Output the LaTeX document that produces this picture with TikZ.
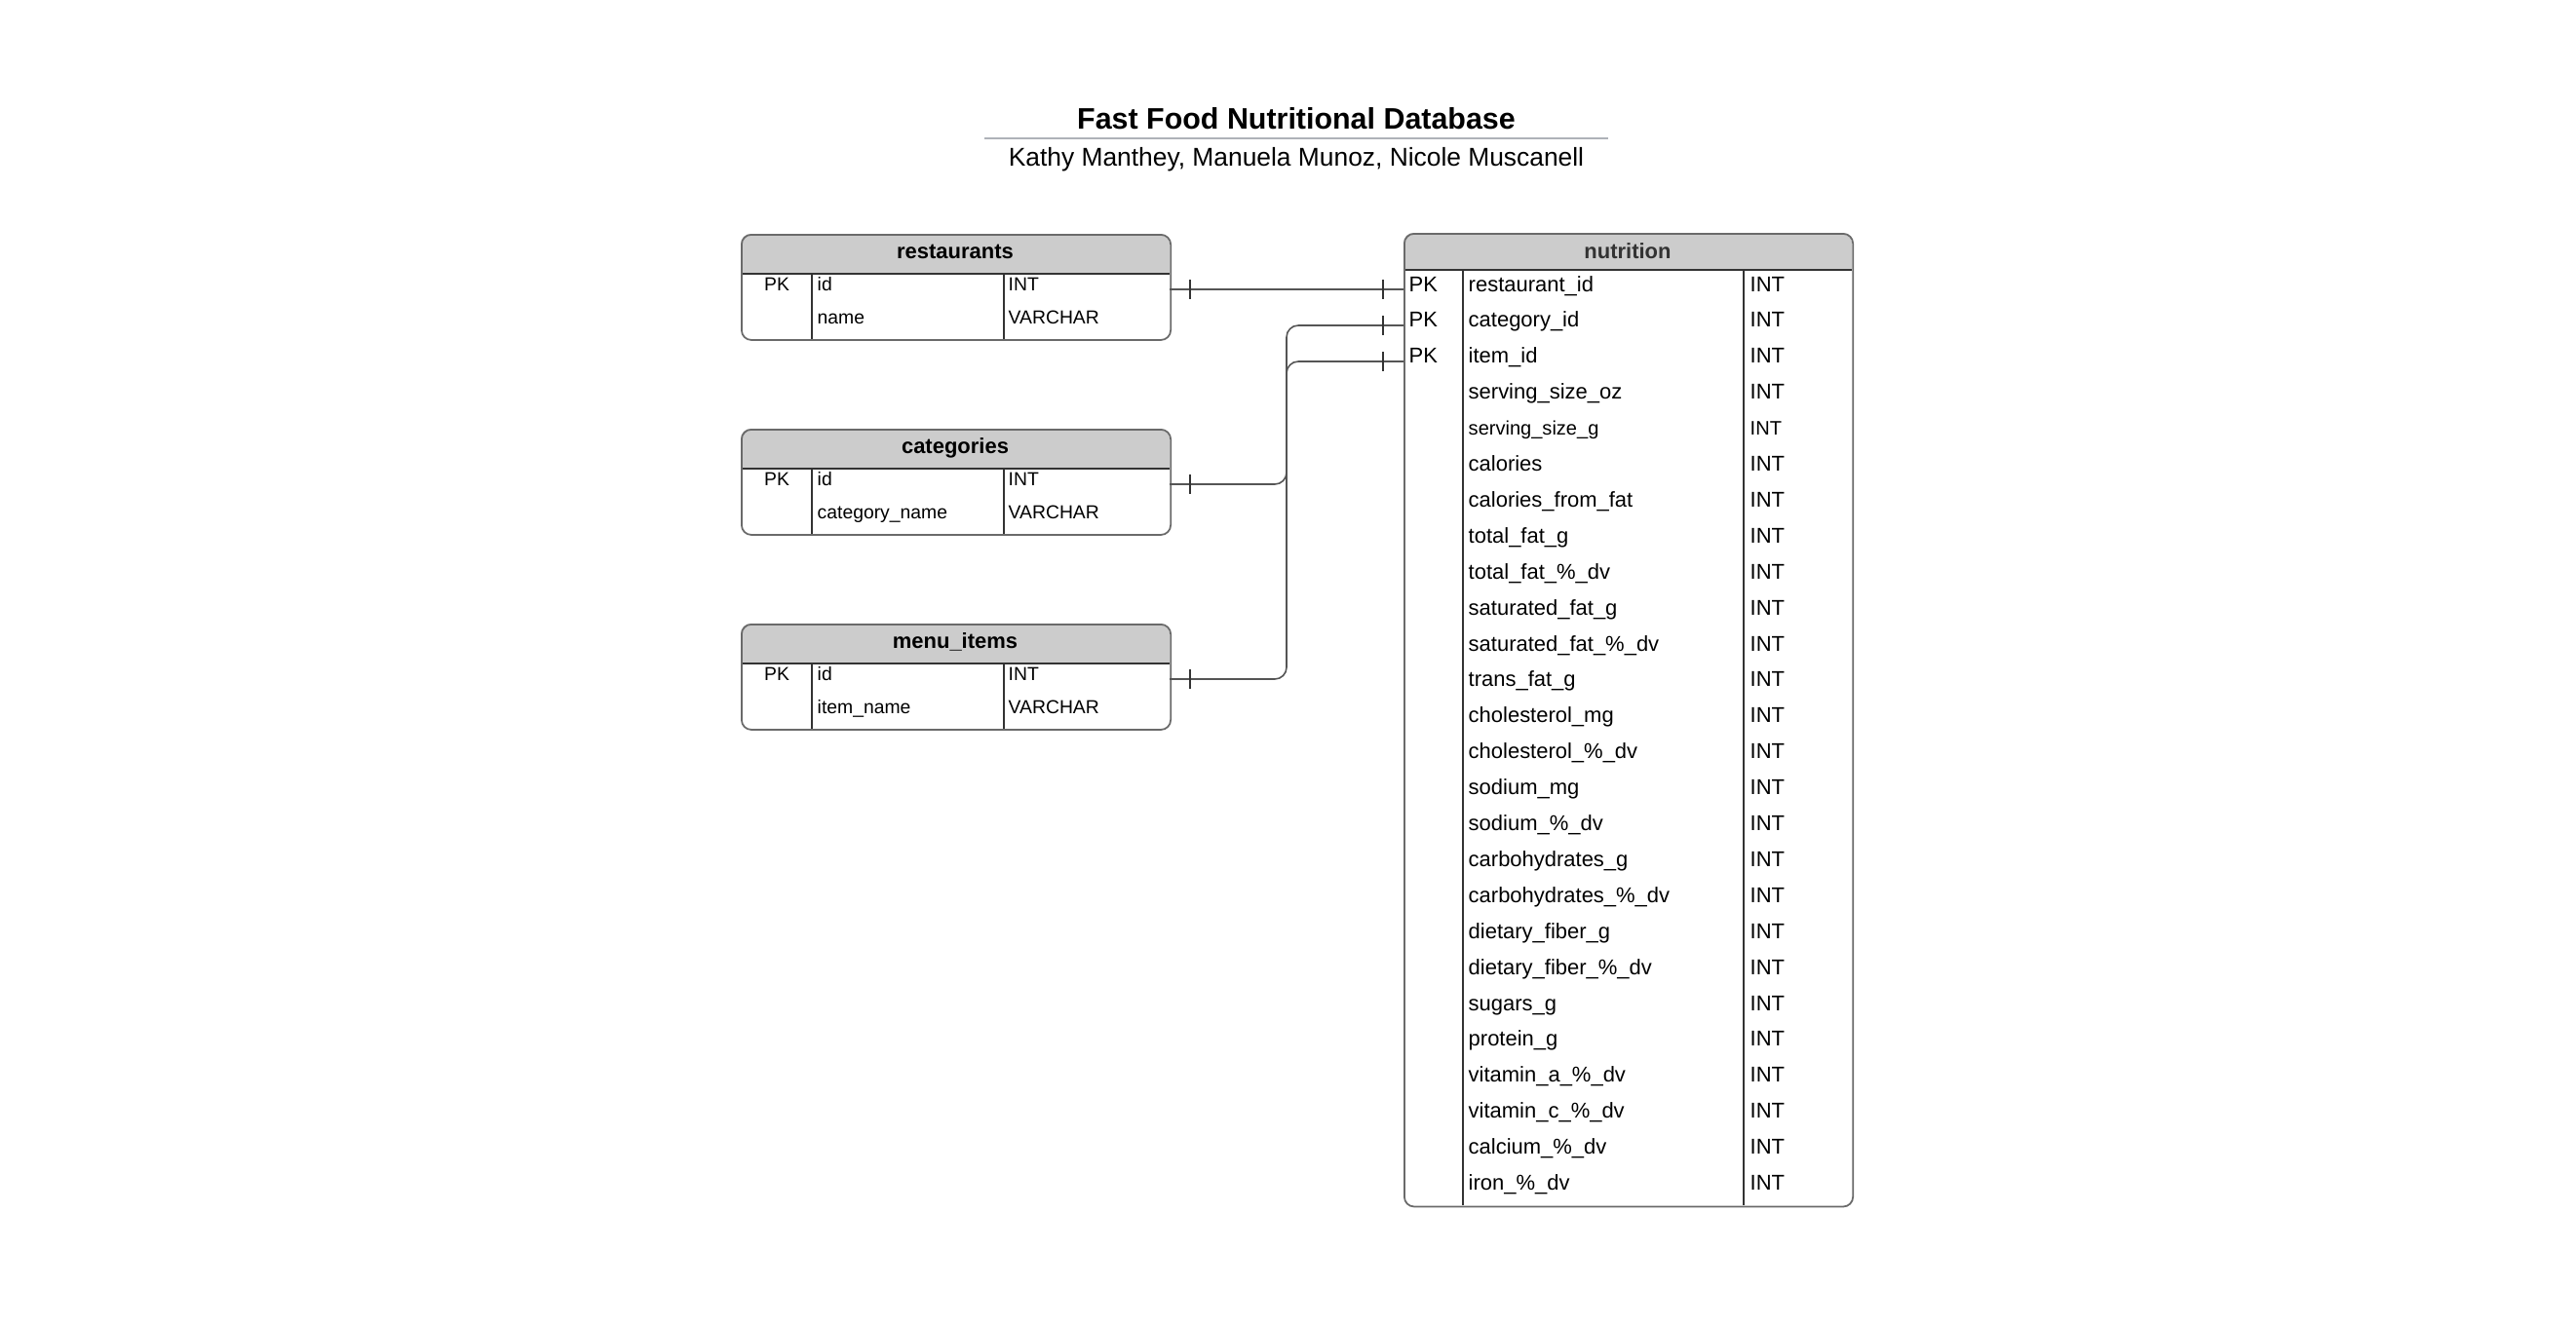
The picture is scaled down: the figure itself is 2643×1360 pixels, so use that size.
\documentclass[tikz,border=0pt]{standalone}
\usepackage{fontspec}
\setmainfont{Liberation Sans}
\definecolor{hdrC}{HTML}{CCCCCC}
\definecolor{frameC}{HTML}{6A6A6A}
\definecolor{divC}{HTML}{333333}
\definecolor{connC}{HTML}{555555}
\definecolor{tickC}{HTML}{333333}
\definecolor{sepC}{HTML}{AEB2B8}
\definecolor{htxtC}{HTML}{333333}
\tikzset{
  tblframe/.style={draw=frameC, line width=0.5pt, rounded corners=1mm, inner sep=0pt, anchor=north west},
  divline/.style={draw=divC, line width=0.42pt},
  conn/.style={draw=connC, line width=0.45pt, rounded corners=1.2mm},
  tickmark/.style={draw=tickC, line width=0.42pt},
  celltxt/.style={font=\fontsize{5.5}{6.5}\selectfont, inner sep=0pt, anchor=base west},
  pktxt/.style={celltxt, anchor=base},
  hdrtxt/.style={font=\fontsize{6.25}{7.5}\selectfont\bfseries, inner sep=0pt, anchor=base},
  ntxt/.style={inner sep=0pt, anchor=base west},
  titletxt/.style={font=\fontsize{8.65}{10}\selectfont\bfseries, inner sep=0pt, anchor=base},
  subtxt/.style={font=\fontsize{7.5}{9}\selectfont, inner sep=0pt, anchor=base}
}
\begin{document}
\begin{tikzpicture}[x=0.01cm,y=-0.01cm]
\useasboundingbox (0,0) rectangle (2643,1360);

% title
\node[titletxt] (title) at (1330,132) {Fast Food Nutritional Database};
\draw[sepC, line width=0.6pt] (1010,142) -- (1650,142);
\node[subtxt] (subtitle) at (1330,170) {Kathy Manthey, Manuela Munoz, Nicole Muscanell};

% small tables
\foreach \nm/\tp/\ttl/\rowb in {rest/240/restaurants/name, cat/440/categories/category\_name, menu/640/menu\_items/item\_name}{
  \begin{scope}
    \clip[rounded corners=1mm] (760,\tp) rectangle (1200,\tp+108);
    \fill[hdrC] (760,\tp) rectangle (1200,\tp+41);
  \end{scope}
  \draw[divline] (760,\tp+41) -- (1200,\tp+41);
  \draw[divline] (833,\tp+41) -- (833,\tp+108);
  \draw[divline] (1030,\tp+41) -- (1030,\tp+108);
  \node[tblframe, minimum width=4.4cm, minimum height=1.08cm] (\nm) at (760,\tp) {};
  \node[hdrtxt] (\nm-title) at (980,\tp+25) {\ttl};
  \node[pktxt] (\nm-pk) at (797,\tp+58) {PK};
  \node[celltxt] (\nm-id) at (838,\tp+58) {id};
  \node[celltxt] (\nm-idtype) at (1034,\tp+58) {INT};
  \node[celltxt] (\nm-b) at (838,\tp+92) {\rowb};
  \node[celltxt] (\nm-btype) at (1034,\tp+92) {VARCHAR};
}

% nutrition table
\begin{scope}
  \clip[rounded corners=1mm] (1440,239) rectangle (1900,1237);
  \fill[hdrC] (1440,239) rectangle (1900,277);
\end{scope}
\draw[divline] (1440,277) -- (1900,277);
\draw[divline] (1501,277) -- (1501,1237);
\draw[divline] (1789,277) -- (1789,1237);
\node[tblframe, minimum width=4.6cm, minimum height=9.98cm] (nut) at (1440,239) {};
\node[hdrtxt, text=htxtC] (nut-title) at (1670,265) {nutrition};

\foreach \r/\s [count=\i from 0] in {
  restaurant\_id/6.25, category\_id/6.25, item\_id/6.25, serving\_size\_oz/6.25,
  serving\_size\_g/5.7, calories/6.25, calories\_from\_fat/6.25, total\_fat\_g/6.25,
  total\_fat\_\%\_dv/6.25, saturated\_fat\_g/6.25, saturated\_fat\_\%\_dv/6.25,
  trans\_fat\_g/6.25, cholesterol\_mg/6.25, cholesterol\_\%\_dv/6.25, sodium\_mg/6.25,
  sodium\_\%\_dv/6.25, carbohydrates\_g/6.25, carbohydrates\_\%\_dv/6.25,
  dietary\_fiber\_g/6.25, dietary\_fiber\_\%\_dv/6.25, sugars\_g/6.25, protein\_g/6.25,
  vitamin\_a\_\%\_dv/6.25, vitamin\_c\_\%\_dv/6.25, calcium\_\%\_dv/6.25, iron\_\%\_dv/6.25}{
  \node[ntxt, font=\fontsize{\s}{7.5}\selectfont] (n-\i) at (1506,299+36.9*\i) {\r};
  \node[ntxt, font=\fontsize{\s}{7.5}\selectfont] (nt-\i) at (1795,299+36.9*\i) {INT};
}
\foreach \i in {0,1,2}{
  \node[ntxt, font=\fontsize{6.25}{7.5}\selectfont] (npk-\i) at (1445,299+36.9*\i) {PK};
}

% connector end points
\coordinate (rest-out) at (1200,297);
\coordinate (cat-out) at (1200,497);
\coordinate (menu-out) at (1200,697);
\coordinate (nut-in0) at (1440,297);
\coordinate (nut-in1) at (1440,334);
\coordinate (nut-in2) at (1440,371);

\draw[conn] (rest-out) -- (nut-in0);
\draw[conn] (cat-out) -- (1320,497) -- (1320,334) -- (nut-in1);
\draw[conn] (menu-out) -- (1320,697) -- (1320,371) -- (nut-in2);

\foreach \c in {rest-out, cat-out, menu-out}{
  \draw[tickmark] (\c) ++(21,-10) -- ++(0,20);
}
\foreach \c in {nut-in0, nut-in1, nut-in2}{
  \draw[tickmark] (\c) ++(-21,-10) -- ++(0,20);
}
\end{tikzpicture}
\end{document}
